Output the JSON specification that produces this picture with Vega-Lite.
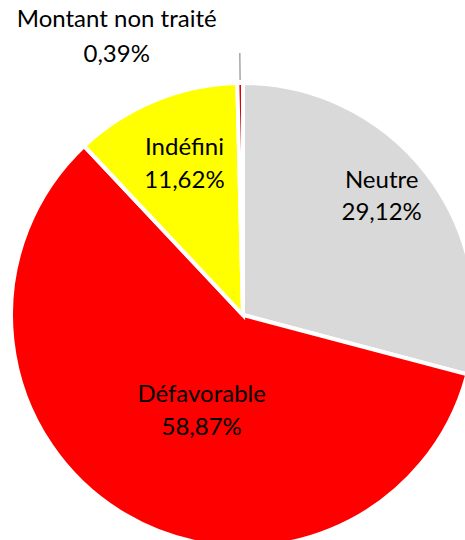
{
  "$schema": "https://vega.github.io/schema/vega-lite/v6.json",
  "width": 444,
  "height": 450,
  "autosize": "none",
  "padding": {"left": 21, "top": 90, "right": 0, "bottom": 0},
  "background": "white",
  "view": {"stroke": null},
  "data": {
    "values": [
      {"cat": "Neutre", "pct": 29.12, "label": "29,12%", "ord": 1},
      {"cat": "Défavorable", "pct": 58.87, "label": "58,87%", "ord": 2},
      {"cat": "Indéfini", "pct": 11.62, "label": "11,62%", "ord": 3},
      {"cat": "Montant non traité", "pct": 0.39, "label": "0,39%", "ord": 4}
    ]
  },
  "transform": [
    {"stack": "pct", "groupby": [], "sort": [{"field": "ord", "order": "ascending"}], "as": ["s0", "s1"]},
    {"calculate": "(datum.s0 + datum.s1) / 2", "as": "mid"}
  ],
  "layer": [
    {
      "mark": {"type": "arc", "outerRadius": 232, "stroke": "white", "strokeWidth": 4},
      "encoding": {
        "theta": {"field": "s0", "type": "quantitative", "scale": {"domain": [0, 100]}},
        "theta2": {"field": "s1"},
        "color": {
          "field": "cat", "type": "nominal", "legend": null,
          "scale": {
            "domain": ["Neutre", "Défavorable", "Indéfini", "Montant non traité"],
            "range": ["#d9d9d9", "#ff0000", "#ffff00", "#e00000"]
          }
        }
      }
    },
    {
      "transform": [{"filter": "datum.cat == 'Montant non traité'"}],
      "mark": {"type": "arc", "innerRadius": 235, "outerRadius": 262, "fill": null, "stroke": "#a6a6a6", "strokeWidth": 1.5},
      "encoding": {
        "theta": {"field": "mid", "type": "quantitative", "scale": {"domain": [0, 100]}},
        "theta2": {"field": "mid"}
      }
    },
    {
      "transform": [{"filter": "datum.cat == 'Neutre'"}],
      "encoding": {"theta": {"field": "mid", "type": "quantitative", "scale": {"domain": [0, 100]}}},
      "layer": [
        {"mark": {"type": "text", "radius": 175, "dy": -27, "font": "Lato", "fontSize": 24, "color": "#000000"}, "encoding": {"text": {"field": "cat"}}},
        {"mark": {"type": "text", "radius": 175, "dy": 5, "font": "Lato", "fontSize": 24, "color": "#000000"}, "encoding": {"text": {"field": "label"}}}
      ]
    },
    {
      "transform": [{"filter": "datum.cat == 'Indéfini'"}],
      "encoding": {"theta": {"field": "mid", "type": "quantitative", "scale": {"domain": [0, 100]}}},
      "layer": [
        {"mark": {"type": "text", "radius": 162, "dx": 3, "dy": -17, "font": "Lato", "fontSize": 24, "color": "#000000"}, "encoding": {"text": {"field": "cat"}}},
        {"mark": {"type": "text", "radius": 162, "dx": 3, "dy": 16, "font": "Lato", "fontSize": 24, "color": "#000000"}, "encoding": {"text": {"field": "label"}}}
      ]
    },
    {
      "transform": [{"filter": "datum.cat == 'Défavorable'"}],
      "encoding": {"theta": {"field": "mid", "type": "quantitative", "scale": {"domain": [0, 100]}}},
      "layer": [
        {"mark": {"type": "text", "radius": 110, "dx": 15, "dy": -14, "font": "Lato", "fontSize": 24, "color": "#000000"}, "encoding": {"text": {"field": "cat"}}},
        {"mark": {"type": "text", "radius": 110, "dx": 15, "dy": 19, "font": "Lato", "fontSize": 24, "color": "#000000"}, "encoding": {"text": {"field": "label"}}}
      ]
    },
    {
      "transform": [{"filter": "datum.cat == 'Montant non traité'"}],
      "encoding": {"theta": {"field": "mid", "type": "quantitative", "scale": {"domain": [0, 100]}}},
      "layer": [
        {"mark": {"type": "text", "radius": 270, "dx": -123, "dy": -25, "font": "Lato", "fontSize": 24, "color": "#000000"}, "encoding": {"text": {"field": "cat"}}},
        {"mark": {"type": "text", "radius": 270, "dx": -123, "dy": 10, "font": "Lato", "fontSize": 24, "color": "#000000"}, "encoding": {"text": {"field": "label"}}}
      ]
    }
  ]
}
